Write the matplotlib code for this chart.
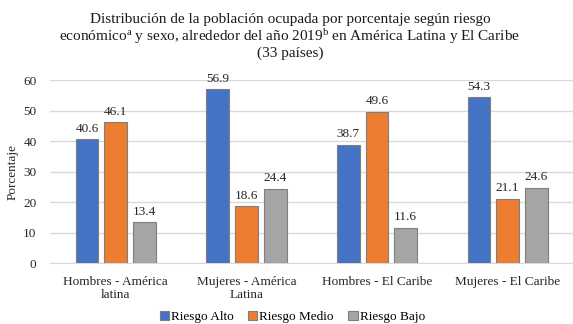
import matplotlib
matplotlib.use('Agg')
import matplotlib.pyplot as plt
import numpy as np

plt.rcParams['font.family'] = ['Liberation Serif', 'DejaVu Serif']
plt.rcParams['mathtext.fontset'] = 'custom'
plt.rcParams['mathtext.rm'] = 'Liberation Serif'
plt.rcParams['mathtext.it'] = 'Liberation Serif'

categories = ['Hombres - América\nlatina', 'Mujeres - América\nLatina',
              'Hombres - El Caribe', 'Mujeres - El Caribe']
series_names = ['Riesgo Alto', 'Riesgo Medio', 'Riesgo Bajo']
riesgo_alto = [40.6, 56.9, 38.7, 54.3]
riesgo_medio = [46.1, 18.6, 49.6, 21.1]
riesgo_bajo = [13.4, 24.4, 11.6, 24.6]
colors = ['#4472C4', '#ED7D31', '#A5A5A5']

fig = plt.figure(figsize=(5.73, 3.24), dpi=100)
ax = fig.add_axes([0.088, 0.188, 0.912, 0.565])

x = np.arange(len(categories))
width = 0.175
offsets = [-0.22, 0, 0.22]
for vals, name, col, off in zip([riesgo_alto, riesgo_medio, riesgo_bajo],
                                series_names, colors, offsets):
    bars = ax.bar(x + off, vals, width, color=col, edgecolor='#7F7F7F',
                  linewidth=0.8, label=name, zorder=3)
    for b, v in zip(bars, vals):
        ax.text(b.get_x() + b.get_width() / 2, v + 1.5, f'{v:.1f}',
                ha='center', va='bottom', fontsize=9.5, color='#262626')

ax.set_xlim(-0.5, 3.5)
ax.set_ylim(0, 60)
ax.set_yticks(range(0, 61, 10))
ax.set_xticks(x)
ax.set_xticklabels(categories, fontsize=9.5, color='#262626')
ax.tick_params(axis='y', labelsize=9.5, colors='#262626', length=0, pad=10)
ax.tick_params(axis='x', length=0, pad=9)
ax.grid(axis='y', color='#D9D9D9', linewidth=1, zorder=0)
for s in ['top', 'right', 'left']:
    ax.spines[s].set_visible(False)
ax.spines['bottom'].set_color('#D9D9D9')
ax.set_ylabel('Porcentaje', fontsize=9.5, color='#262626', labelpad=3)

fig.suptitle('Distribución de la población ocupada por porcentaje según riesgo\n'
             'económico$^{\\mathrm{a}}$ y sexo, alrededor del año 2019$^{\\mathrm{b}}$ en América Latina y El Caribe\n'
             '(33 países)', fontsize=11, y=0.96, x=0.506, linespacing=1.05, color='#1a1a1a')

fig.legend(loc='lower center', bbox_to_anchor=(0.51, -0.033), ncol=3, frameon=False,
           fontsize=9.5, handlelength=0.7, handleheight=0.7, handletextpad=0.15,
           columnspacing=1.1)

fig.savefig('out.png', dpi=100)
